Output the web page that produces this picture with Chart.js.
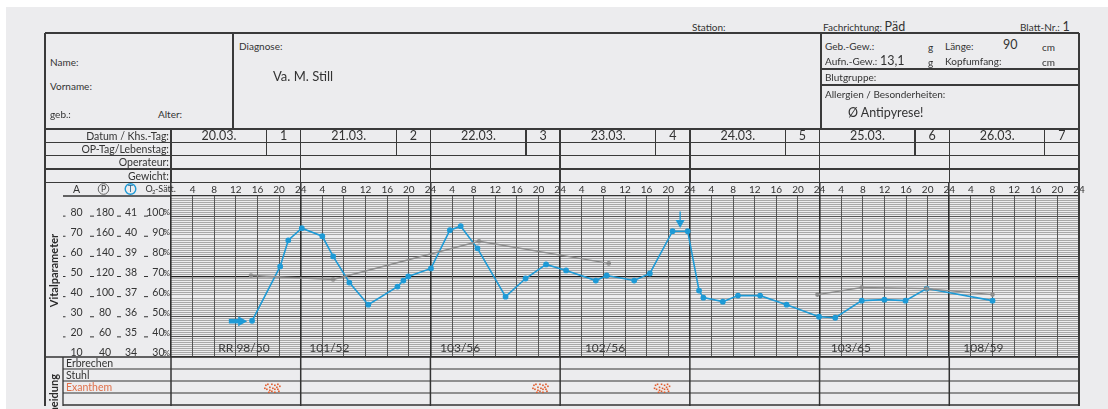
<!DOCTYPE html>
<html>
<head>
<meta charset="utf-8">
<script src="https://cdn.jsdelivr.net/npm/chart.js@4.4.1/dist/chart.umd.min.js"></script>
<style>
    html, body { margin: 0; padding: 0; background: #fff; }
    body { width: 1108px; height: 409px; position: relative; overflow: hidden;
           font-family: Lato, "DejaVu Sans Condensed", sans-serif; color: #333; }
    #sheet { position: absolute; left: 6px; top: 7px; right: 0; bottom: 0; background: #ececee; }
    .t { position: absolute; white-space: nowrap; line-height: 1; }
    .t b { font-weight: normal; font-size: 12.5px; }
    .ln { position: absolute; background: #3a3a3a; }
    #vital { position: absolute; left: 45px; top: 182px; }
</style>
</head>
<body>
<div id="sheet"></div>
<canvas id="vital" width="1050" height="227"></canvas>
<script>
// Kopfdaten
const dates = ['20.03.', '21.03.', '22.03.', '23.03.', '24.03.', '25.03.', '26.03.'];
const khsDays = ['1', '2', '3', '4', '5', '6', '7'];

// Temperatur (blau), Stunden ab 20.03. 0 Uhr
const tempHours = [15.0, 20.2, 21.7, 24.2, 28.0, 30.0, 33.0, 36.5, 41.9, 43.0, 43.9, 48.1, 51.6, 53.6, 56.7,
    61.9, 65.6, 69.4, 73.1, 78.6, 80.6, 85.7, 88.6, 92.8, 95.6, 97.7, 98.5, 102.1, 104.9, 109.0, 113.9,
    119.9, 122.9, 127.8, 132.0, 135.9, 139.8, 152.0];
const tempValues = [35.8, 38.5, 39.8, 40.4, 40.0, 39.0, 37.7, 36.6, 37.5, 37.8, 38.0, 38.4, 40.3, 40.5, 39.4,
    37.0, 37.9, 38.6, 38.3, 37.8, 38.05, 37.8, 38.15, 40.25, 40.25, 37.3, 36.95, 36.75, 37.05, 37.05, 36.6,
    36.0, 35.95, 36.8, 36.85, 36.8, 37.4, 36.8];

// Puls (grau)
const pulseHours = [14.8, 30.0, 57.0, 81.0, 100, 119.6, 127.8, 139.8, 152.0];
const pulseValues = [121, 117, 155, 133, null, 102, 109, 108, 102];

// Skalen links
const aLabels = ['10', '20', '30', '40', '50', '60', '70', '80'];
const pLabels = ['40', '60', '80', '100', '120', '140', '160', '180'];
const tLabels = ['34', '35', '36', '37', '38', '39', '40', '41'];
const o2Labels = ['30', '40', '50', '60', '70', '80', '90', '100'];

// Blutdruck
const rrHours = [13.5, 29.3, 53.5, 80.3, 125.8, 150.3];
const rrTexts = ['RR 98/50', '101/52', '103/56', '102/56', '103/65', '108/59'];

// Exanthem-Einträge
const exanthemHours = [18.7, 68.3, 90.8];

const FONT = 'Lato, "DejaVu Sans Condensed", sans-serif';
const X0 = 171, X1 = 1079, DAY = (X1 - X0) / 7;
const BLUE = '#1e9ad6';

function put(html, x, y, size, align, color) {
    const el = document.createElement('div');
    el.className = 't';
    el.innerHTML = html;
    el.style.left = x + 'px';
    el.style.top = y + 'px';
    el.style.fontSize = size + 'px';
    const tx = align === 'center' ? '-50%' : align === 'right' ? '-100%' : '0';
    el.style.transform = 'translate(' + tx + ', -50%)';
    if (color) el.style.color = color;
    document.body.appendChild(el);
}
function hl(x1, x2, y, w) {
    w = w || 1.3;
    const el = document.createElement('div');
    el.className = 'ln';
    el.style.left = x1 + 'px'; el.style.width = (x2 - x1) + 'px';
    el.style.top = (y - w / 2) + 'px'; el.style.height = w + 'px';
    document.body.appendChild(el);
}
function vl(x, y1, y2, w) {
    w = w || 1.3;
    const el = document.createElement('div');
    el.className = 'ln';
    el.style.left = (x - w / 2) + 'px'; el.style.width = w + 'px';
    el.style.top = y1 + 'px'; el.style.height = (y2 - y1) + 'px';
    document.body.appendChild(el);
}

// Kopfzeile
put('Station:', 692, 27, 10);
put('Fachrichtung: <b>Päd</b>', 823, 26.5, 10);
put('Blatt-Nr.: <b>1</b>', 1020, 26.5, 10);

// Kasten oben
hl(45, 1079, 33);
vl(45, 33, 406);
vl(1079, 33, 406);
vl(233, 33, 129);
vl(821, 33, 129);
hl(821, 1079, 69);
hl(821, 1079, 85);

put('Name:', 50, 62, 10);
put('Vorname:', 50, 86, 10);
put('geb.:', 50, 114, 10);
put('Alter:', 158, 114, 10);
put('Diagnose:', 239, 46, 10);
put('Va. M. Still', 273, 76, 13);

put('Geb.-Gew.:', 825, 46, 10);
put('g', 928, 47, 10);
put('Länge:', 945, 46, 10);
put('90', 1003, 45, 12.5);
put('cm', 1042, 47, 10);
put('Aufn.-Gew.: <b>13,1</b>', 825, 60.5, 10);
put('g', 928, 62, 10);
put('Kopfumfang:', 945, 61, 10);
put('cm', 1042, 62, 10);
put('Blutgruppe:', 825, 77, 10);
put('Allergien / Besonderheiten:', 825, 94, 10);
put('Ø Antipyrese!', 848, 113, 12.5);

// Datumszeilen
const rowY = [129, 142.3, 155.6, 168.9, 182.2];
rowY.forEach(y => hl(45, 1079, y));
vl(171, 129, 182.2);
for (let d = 0; d < 7; d++) {
    const xs = X0 + d * DAY;
    if (d > 0) vl(xs, 129, 182.2);
    vl(xs + 95.5, 129, 155.6);
    put(dates[d], xs + 48, 135.8, 12.5, 'center');
    put(khsDays[d], xs + 95.5 + (DAY - 95.5) / 2, 135.8, 12.5, 'center');
}
put('Datum / Khs.-Tag:', 169, 135.8, 10.5, 'right');
put('OP-Tag/Lebenstag:', 169, 149, 10.5, 'right');
put('Operateur:', 169, 162.3, 10.5, 'right');
put('Gewicht:', 169, 175.6, 10.5, 'right');

// Raster, Kurven und Beschriftung im Canvas
const formPlugin = {
    id: 'form',
    afterDraw(chart) {
        const { ctx, chartArea: a } = chart;
        const xs = chart.scales.x, ys = chart.scales.y;
        const ink = '#333';
        const line = (x1, y1, x2, y2, w, c) => {
            ctx.beginPath();
            ctx.moveTo(x1, y1); ctx.lineTo(x2, y2);
            ctx.lineWidth = w || 1.3; ctx.strokeStyle = c || ink;
            ctx.stroke();
        };
        const text = (s, x, y, size, align, color, bold) => {
            ctx.font = (bold ? 'bold ' : '') + size + 'px ' + FONT;
            ctx.textAlign = align || 'center';
            ctx.textBaseline = 'middle';
            ctx.fillStyle = color || ink;
            ctx.fillText(s, x, y);
        };
        ctx.save();

        // Spalten links
        [18, 45, 72, 99].forEach(c => line(c, 0, a.bottom));
        line(18, a.top, a.left, a.top);
        line(0, a.bottom, a.right, a.bottom);

        // Kopf der Spalten
        text('A', 31.5, 7.5, 10.5);
        ctx.beginPath(); ctx.arc(58.5, 7, 5.3, 0, Math.PI * 2);
        ctx.lineWidth = 1; ctx.strokeStyle = '#666'; ctx.stroke();
        text('P', 58.5, 7.3, 8.5);
        ctx.beginPath(); ctx.arc(85.5, 7, 5.3, 0, Math.PI * 2);
        ctx.lineWidth = 1.4; ctx.strokeStyle = BLUE; ctx.stroke();
        text('T', 85.5, 7.3, 8.5, 'center', '#1b5f8c');
        text('O', 100.5, 7.5, 9, 'left');
        text('2', 107, 10, 6, 'left');
        text('-Sätt.', 110, 7.5, 9, 'left');

        // Skalenwerte
        for (let i = 0; i < tLabels.length; i++) {
            const yy = ys.getPixelForValue(34 + i);
            const ty = yy - 4;
            text(aLabels[i], 31.5, ty, 10.5);
            text(pLabels[i], 60, ty, 10.5);
            text(tLabels[i], 86, ty, 10.5);
            text(o2Labels[i], 119.5, ty, 10.5, 'right');
            text('%', 125, ty + 0.5, 8, 'right');
            if (i > 0) {
                line(18, yy, 20.5, yy, 1);
                line(45, yy, 49, yy, 1);
                line(72, yy, 76, yy, 1);
                line(99, yy, 103, yy, 1);
            }
        }

        // senkrechte Titel
        ctx.save();
        ctx.translate(9.5, 88.5); ctx.rotate(-Math.PI / 2);
        text('Vitalparameter', 0, 0, 11, 'center', '#2a2a2a', true);
        ctx.restore();
        ctx.save();
        ctx.translate(9.5, 192); ctx.rotate(-Math.PI / 2);
        text('Ausscheidung', 0, 0, 11, 'right', '#2a2a2a', true);
        ctx.restore();

        // Pfeile
        const ay = ys.getPixelForValue(35.78);
        const ax1 = xs.getPixelForValue(10.7), ax2 = xs.getPixelForValue(14.1);
        ctx.fillStyle = BLUE;
        ctx.fillRect(ax1, ay - 2.3, ax2 - ax1 - 7, 4.6);
        ctx.beginPath();
        ctx.moveTo(ax2 - 9, ay - 5); ctx.lineTo(ax2, ay); ctx.lineTo(ax2 - 9, ay + 5); ctx.closePath();
        ctx.fill();
        const dx = xs.getPixelForValue(94.2);
        const dy1 = ys.getPixelForValue(41.23), dy2 = ys.getPixelForValue(40.41);
        line(dx, dy1, dx, dy2 - 5, 1.4, BLUE);
        ctx.beginPath();
        ctx.moveTo(dx - 4.5, dy2 - 8); ctx.lineTo(dx + 4.5, dy2 - 8); ctx.lineTo(dx, dy2); ctx.closePath();
        ctx.fillStyle = BLUE; ctx.fill();

        // Blutdruck
        rrTexts.forEach((s, i) => text(s, xs.getPixelForValue(rrHours[i]), 166.5, 12, 'center', '#3a3a3a'));

        // Ausscheidung / Beobachtung
        const rows = [187, 199, 211];
        rows.forEach(r => line(18, r, a.right, r, 1.2));
        line(18, 223, a.right, 223, 1.3);
        line(18, a.bottom, 18, 224);
        for (let d = 0; d <= 7; d++) {
            const px = xs.getPixelForValue(d * 24);
            line(px, a.bottom, px, 224, d === 7 ? 1.3 : 1.5);
        }
        text('Erbrechen', 21, 181.5, 10.5, 'left');
        text('Stuhl', 21, 193.5, 10.5, 'left');
        text('Exanthem', 21, 205.5, 10.5, 'left', '#e0704a');

        const speck = [[-7, -3], [-5, -4], [-3, -1], [-1, -4], [2, -3], [5, -4], [7, -2], [-6, 1], [-3, 2],
            [0, 0], [2, 1], [5, 1], [-4, 4], [-1, 3], [2, 4], [6, 3], [4, -1], [-8, 0]];
        ctx.fillStyle = '#e05a2a';
        exanthemHours.forEach(h => {
            const cx = xs.getPixelForValue(h);
            speck.forEach(p => ctx.fillRect(cx + p[0], 205.5 + p[1], 1.6, 1.6));
        });

        ctx.restore();
    }
};

function gridY(c) {
    const v = Math.round(c.tick.value * 10);
    if (v === 380) return '#1e1e1e';
    if (v === 340 || v === 420) return '#333';
    if (v === 370 || v === 400) return 'rgba(0,0,0,0)';
    if (v % 10 === 0) return '#555';
    return '#a8a8a8';
}

new Chart(document.getElementById('vital').getContext('2d'), {
    type: 'line',
    data: {
        datasets: [
            {
                label: 'Puls',
                data: pulseHours.map((h, i) => ({ x: h, y: pulseValues[i] })),
                yAxisID: 'yP',
                borderColor: '#8c8c8c',
                backgroundColor: '#8c8c8c',
                borderWidth: 1.4,
                pointRadius: 1.6,
                pointHoverRadius: 1.6,
                spanGaps: false,
                tension: 0
            },
            {
                label: 'Temperatur',
                data: tempHours.map((h, i) => ({ x: h, y: tempValues[i] })),
                yAxisID: 'y',
                borderColor: BLUE,
                backgroundColor: BLUE,
                borderWidth: 1.6,
                pointRadius: 2.1,
                pointHoverRadius: 2.1,
                tension: 0
            }
        ]
    },
    options: {
        responsive: false,
        animation: false,
        layout: { padding: { left: 126, right: 16, top: 0, bottom: 52 } },
        plugins: { legend: { display: false }, tooltip: { enabled: false } },
        scales: {
            x: {
                type: 'linear',
                position: 'top',
                min: 0,
                max: 168,
                afterFit(s) { s.height = 14; s.paddingLeft = 0; s.paddingRight = 0; },
                border: { display: false },
                ticks: {
                    stepSize: 4,
                    autoSkip: false,
                    maxRotation: 0,
                    padding: -14,
                    color: '#333',
                    font: { size: 10, family: FONT },
                    callback: v => v === 0 ? '' : String(v % 24 === 0 ? 24 : v % 24)
                },
                grid: {
                    z: -1,
                    drawTicks: true,
                    tickLength: 14,
                    tickWidth: 1.5,
                    tickColor: c => (c.tick && c.tick.value % 24 === 0) ? '#333' : 'rgba(0,0,0,0)',
                    color: c => (c.tick && c.tick.value % 24 === 0) ? '#2e2e2e' : '#555',
                    lineWidth: c => (c.tick && c.tick.value % 24 === 0) ? 1.6 : 1
                }
            },
            y: {
                type: 'linear',
                position: 'left',
                min: 34,
                max: 42,
                afterFit(s) { s.width = 0; },
                border: { display: false },
                ticks: { display: false, stepSize: 0.1 },
                grid: {
                    z: -2,
                    drawTicks: false,
                    color: gridY,
                    lineWidth: c => {
                        const v = Math.round(c.tick.value * 10);
                        return (v === 380 || v === 340 || v === 420) ? 1.3 : 1;
                    }
                }
            },
            yP: { type: 'linear', min: 40, max: 200, display: false }
        }
    },
    plugins: [formPlugin]
});
</script>
</body>
</html>
